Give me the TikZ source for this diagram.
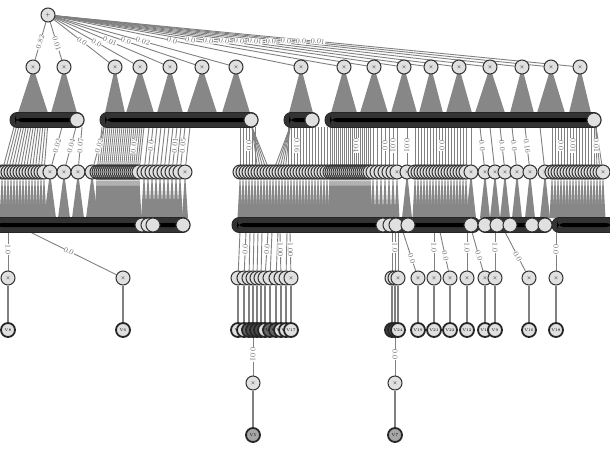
\documentclass[tikz,border=0pt]{standalone}
\usetikzlibrary{calc}
\pgfdeclarelayer{bg}
\pgfdeclarelayer{lab}
\pgfsetlayers{bg,lab,main}
\tikzset{
  nd/.style={circle,draw=black!80,line width=1pt,fill=black!12,minimum size=14pt,inner sep=0pt,font=\fontsize{5}{5}\selectfont},
  lf/.style={nd,draw=black!85,line width=1.8pt,font=\fontsize{4}{4}\selectfont},
  ed/.style={draw=black!50,line width=0.9pt},
  edt/.style={draw=black!50,line width=1.6pt},
  fan/.style={fill=black!47},
  wl/.style={font=\fontsize{7.5}{7.5}\selectfont,text=black!60,fill=white,inner sep=0.4pt},
  barn/.style={rectangle,rounded corners=7pt,fill=black!80,draw=black!85,line width=0.8pt,minimum height=15pt,inner sep=0pt,
    path picture={\fill[black] ([xshift=5pt,yshift=-2pt]path picture bounding box.west) rectangle ([xshift=-9pt,yshift=2pt]path picture bounding box.east);}},
}
\newcommand\mkthree[3]{%
  \node[nd] (n3-#1) at (#1,172) {$\times$};
  \begin{pgfonlayer}{bg}
    \fill[fan] (#1,172) -- (#1-#3,218) -- (#1+#3,218) -- cycle;
    \draw[ed] (#2,127) -- (n3-#1);
  \end{pgfonlayer}%
}
\begin{document}
\begin{tikzpicture}[x=1pt,y=-1pt]
\useasboundingbox (0,0) rectangle (610,450);

% ---------- root and first product layer ----------
\node[nd] (root) at (48,15) {$+$};
\foreach \x/\h/\l/\lx [count=\i] in {33/15/0.82/40, 64/13/0.01/57, 115/10/0.0/82, 140/14/0.0/97, 170/13/0.01/110, 202/15/0.0/126, 236/14/0.02/143, 301/12/0.0/172, 344/13/0.0/190, 374/14/0.0/208, 404/13/0.0/224, 431/12/0.0/239, 459/13/0.01/255, 490/15/0.0/271, 522/12/0.0/286, 551/14/0.0/301, 580/11/0.01/318}{
  \node[nd] (L1-\i) at (\x,67) {$\times$};
  \pgfmathsetmacro\p{(\lx-48)/(\x-48)}
  \begin{pgfonlayer}{bg}
    \fill[fan] (\x,67) -- (\x-\h,113) -- (\x+\h,113) -- cycle;
    \draw[ed] (root) -- (L1-\i);
  \end{pgfonlayer}
  \begin{pgfonlayer}{lab}
    \path (root) -- (L1-\i) node[wl,sloped,pos=\p]{\l};
  \end{pgfonlayer}
}

% ---------- second layer bars ----------
\node[barn,minimum width=74pt] (B1) at (47,120) {};
\node[barn,minimum width=158pt] (B2) at (179,120) {};
\node[barn,minimum width=35pt] (B3) at (301.5,120) {};
\node[barn,minimum width=276pt] (B4) at (463,120) {};
\node[nd] (B1e) at (77,120) {};
\node[nd] (B2e) at (251,120) {};
\node[nd] (B3e) at (312,120) {};
\node[nd] (B4e) at (594,120) {};

% ---------- third layer ----------
\foreach \x in {2,5,...,44}{\pgfmathsetmacro\s{14+0.8*(\x-2)}\mkthree{\x}{\s}{2.5}}
\foreach \x/\s in {50/62,64/76,78/82,92/104}{\mkthree{\x}{\s}{6}}
\foreach \x in {97,99,...,139}{\pgfmathsetmacro\s{\x+5}\mkthree{\x}{\s}{2.5}}
\foreach \x in {144,148,...,180,185}{\pgfmathsetmacro\s{\x+5}\mkthree{\x}{\s}{3}}
\foreach \x in {240,243,...,327,330,332,...,370,373,377,...,397}{\pgfmathsetmacro\s{(\x>256 && \x<271) ? 252 : ((\x>=271 && \x<288) ? 290 : \x)}\mkthree{\x}{\s}{2.5}}
\mkthree{407}{407}{5}
\foreach \x in {415,418,...,466}{\mkthree{\x}{\x}{2.5}}
\mkthree{471}{471}{5}
\foreach \x in {485,495,505,517,530,545}{\pgfmathsetmacro\s{\x-5}\mkthree{\x}{\s}{5}}
\foreach \x in {552,555,...,603}{\pgfmathsetmacro\s{min(\x,596)}\mkthree{\x}{\s}{2.5}}

\begin{pgfonlayer}{lab}
\foreach \x/\s/\l in {50/62/0.02, 64/76/0.04, 78/82/0.07, 92/104/0.02, 131/136/0.02, 148/153/0.0, 172/177/0.01, 180/185/0.05, 249/249/0.0, 297/297/0.16, 356/356/0.04, 385/385/0.0, 393/393/0.01, 407/407/0.01, 442/442/0.0, 485/480/0.0, 505/500/0.0, 517/512/0.0, 530/525/0.16, 561/561/0.0, 573/573/0.01, 597/596/0.01}{
  \path (\s,127) -- (n3-\x) node[wl,sloped,pos=0.5]{\l};
}
\end{pgfonlayer}

% ---------- fourth layer bars ----------
\node[barn,minimum width=200pt] (C1) at (90,225) {};
\node[barn,minimum width=248pt] (C2) at (356,225) {};
\node[barn,minimum width=74pt] (C3) at (515,225) {};
\node[barn,minimum width=70pt] (C4) at (587,225) {};
\foreach \x [count=\i] in {142,148,153,183}{\node[nd] (C1c-\i) at (\x,225) {};}
\foreach \x [count=\i] in {383,390,396,408,471}{\node[nd] (C2c-\i) at (\x,225) {};}
\foreach \x [count=\i] in {485,497,510,532,545}{\node[nd] (C3c-\i) at (\x,225) {};}

% ---------- fifth/sixth layers ----------
\foreach \x/\s/\l/\v/\fc/\q in {8/8/1.0/V8/black!12/0.45, 123/30/0.0/V6/black!12/0.45, 238/240//V1/black!12/0.45, 244/246/0.0/V2/black!12/0.45, 249/250//V3/black!60/0.45, 253/254//V4/black!70/0.45, 257/258//V5/black!70/0.45, 261/262//V7/black!70/0.45, 265/268/0.0/V9/black!12/0.45, 270/272//V10/black!60/0.45, 276/278//V11/black!60/0.45, 281/280/1.00/V13/black!12/0.45, 286/287//V14/black!12/0.45, 291/290/1.00/V17/black!12/0.45, 392/392//V20/black!70/0.45, 395/395/1.0/V23/black!70/0.4, 398/398//V24/black!12/0.45, 418/403/0.0/V19/black!12/0.68, 434/434/1.0/V21/black!12/0.4, 450/440/0.0/V22/black!12/0.62, 467/467/1.0/V12/black!12/0.4, 485/472/0.0/V15/black!12/0.62, 495/495/1.0/V9/black!12/0.4, 529/505/0.0/V16/black!12/0.62, 556/556/0.0/V18/black!12/0.45}{
  \node[nd] (n4-\x) at (\x,278) {$\times$};
  \node[lf,fill=\fc] (n5-\x) at (\x,330) {\v};
  \begin{pgfonlayer}{bg}
    \draw[ed] (\s,232) -- (n4-\x);
    \draw[edt] (n4-\x) -- (n5-\x);
  \end{pgfonlayer}
  \ifx\l\empty\else
  \begin{pgfonlayer}{lab}
    \path (\s,232) -- (n4-\x) node[wl,sloped,pos=\q]{\l};
  \end{pgfonlayer}
  \fi
}

\node[nd] (n6a) at (253,383) {$\times$};
\node[lf,fill=black!35] (n7a) at (253,435) {V5};
\node[nd] (n6b) at (395,383) {$\times$};
\node[lf,fill=black!35] (n7b) at (395,435) {V7};
\begin{pgfonlayer}{bg}
  \draw[ed] (n5-253) -- (n6a);
  \draw[edt] (n6a) -- (n7a);
  \draw[ed] (n5-395) -- (n6b);
  \draw[edt] (n6b) -- (n7b);
\end{pgfonlayer}
\begin{pgfonlayer}{lab}
  \path (n5-253) -- (n6a) node[wl,sloped,pos=0.45]{0.01};
  \path (n5-395) -- (n6b) node[wl,sloped,pos=0.45]{0.0};
\end{pgfonlayer}
\end{tikzpicture}
\end{document}
